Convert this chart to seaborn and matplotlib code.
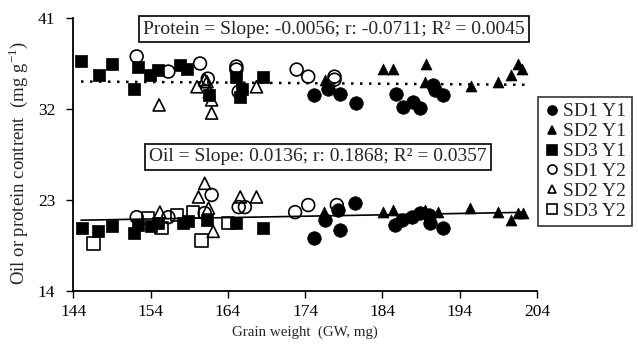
import numpy as np
import pandas as pd
import matplotlib
matplotlib.use("Agg")
import matplotlib.pyplot as plt
from matplotlib.lines import Line2D
import seaborn as sns

# ---------------- data ----------------
series_names = ["SD1 Y1", "SD2 Y1", "SD3 Y1", "SD1 Y2", "SD2 Y2", "SD3 Y2"]

# Protein
prot_sd1y1_x = [175.1, 176.9, 178.5, 180.6, 185.8, 186.7, 188.0, 188.8, 190.6, 190.8, 191.9]
prot_sd1y1_y = [33.4, 34.0, 33.45, 32.6, 33.5, 32.2, 32.7, 32.1, 34.4, 33.9, 33.4]
prot_sd2y1_x = [176.6, 184.1, 185.4, 189.7, 189.5, 195.5, 199.0, 200.7, 201.6, 202.0]
prot_sd2y1_y = [34.9, 36.0, 36.0, 36.5, 34.7, 34.3, 34.7, 35.4, 36.5, 36.0]
prot_sd3y1_x = [145.0, 147.3, 149.0, 152.4, 151.8, 153.9, 155.0, 157.8, 158.7, 161.5, 165.1, 165.8, 165.6, 168.6]
prot_sd3y1_y = [36.75, 35.4, 36.5, 36.2, 34.0, 35.4, 35.9, 36.35, 36.0, 33.4, 35.2, 34.0, 33.2, 35.2]
prot_sd1y2_x = [152.2, 156.3, 160.4, 161.4, 165.1, 165.1, 165.4, 172.9, 174.4, 177.8, 177.8]
prot_sd1y2_y = [37.2, 35.7, 36.5, 35.0, 36.2, 35.9, 33.7, 35.9, 35.2, 35.2, 34.9]
prot_sd2y2_x = [155.1, 160.0, 161.0, 161.3, 161.6, 161.9, 161.9, 167.7]
prot_sd2y2_y = [32.4, 34.2, 34.9, 34.7, 33.7, 32.9, 31.6, 34.2]
prot_sd3y2_x = []
prot_sd3y2_y = []

# Oil
oil_sd1y1_x = [175.1, 176.6, 178.3, 178.5, 180.4, 185.6, 186.5, 187.8, 188.9, 190.0, 190.2, 191.9]
oil_sd1y1_y = [19.2, 21.0, 22.0, 20.0, 22.7, 20.5, 21.0, 21.3, 21.7, 21.5, 20.7, 20.2]
oil_sd2y1_x = [176.4, 184.1, 185.4, 189.5, 191.2, 195.3, 199.0, 200.7, 201.6, 202.2]
oil_sd2y1_y = [21.8, 21.8, 22.0, 22.0, 21.8, 22.2, 21.8, 21.0, 21.7, 21.7]
oil_sd3y1_x = [145.1, 147.2, 149.0, 151.8, 152.4, 154.1, 155.0, 158.2, 158.9, 161.3, 165.1, 168.6]
oil_sd3y1_y = [20.2, 19.9, 20.4, 19.7, 20.5, 20.4, 20.7, 20.7, 20.9, 21.0, 20.7, 20.2]
oil_sd1y2_x = [152.2, 156.3, 161.0, 161.9, 165.4, 166.2, 172.7, 174.4, 178.1]
oil_sd1y2_y = [21.3, 21.3, 21.7, 23.5, 22.3, 22.3, 21.8, 22.5, 22.5]
oil_sd2y2_x = [155.2, 160.2, 161.0, 161.5, 162.1, 165.6, 167.7]
oil_sd2y2_y = [21.8, 23.3, 24.65, 22.2, 19.9, 23.3, 23.3]
oil_sd3y2_x = [146.6, 153.7, 155.4, 157.4, 159.5, 160.6, 164.0]
oil_sd3y2_y = [18.7, 21.2, 20.2, 21.5, 21.8, 19.0, 20.7]

# regression lines (intercept, slope)
prot_fit = [35.53, -0.0056]
oil_fit = [19.03, 0.0136]
line_range = [145.0, 202.5]

prot_text = "Protein = Slope: -0.0056; r: -0.0711; R\u00b2 = 0.0045"
oil_text = "Oil = Slope: 0.0136; r: 0.1868; R\u00b2 = 0.0357"

x_ticks = [144, 154, 164, 174, 184, 194, 204]
y_ticks = [14, 23, 32, 41]

# ---------------- build table ----------------
rows = []
prot = [(prot_sd1y1_x, prot_sd1y1_y), (prot_sd2y1_x, prot_sd2y1_y), (prot_sd3y1_x, prot_sd3y1_y),
        (prot_sd1y2_x, prot_sd1y2_y), (prot_sd2y2_x, prot_sd2y2_y), (prot_sd3y2_x, prot_sd3y2_y)]
oil = [(oil_sd1y1_x, oil_sd1y1_y), (oil_sd2y1_x, oil_sd2y1_y), (oil_sd3y1_x, oil_sd3y1_y),
       (oil_sd1y2_x, oil_sd1y2_y), (oil_sd2y2_x, oil_sd2y2_y), (oil_sd3y2_x, oil_sd3y2_y)]
for name, (px, py), (ox, oy) in zip(series_names, prot, oil):
    for a, b in zip(px, py):
        rows.append(dict(series=name, trait="Protein", gw=a, val=b))
    for a, b in zip(ox, oy):
        rows.append(dict(series=name, trait="Oil", gw=a, val=b))
df = pd.DataFrame(rows)

# ---------------- style ----------------
sns.set_style("ticks")
plt.rcParams["font.family"] = ["Liberation Serif", "DejaVu Serif"]
plt.rcParams["mathtext.fontset"] = "custom"
plt.rcParams["mathtext.rm"] = "Liberation Serif"

markers = {"SD1 Y1": "o", "SD2 Y1": "^", "SD3 Y1": "s", "SD1 Y2": "o", "SD2 Y2": "^", "SD3 Y2": "s"}
filled = {"SD1 Y1": True, "SD2 Y1": True, "SD3 Y1": True, "SD1 Y2": False, "SD2 Y2": False, "SD3 Y2": False}
sizes_filled = {"o": 95, "^": 62, "s": 80}
sizes_open = {"o": 85, "^": 75, "s": 78}

fig = plt.figure(figsize=(6.38, 3.44), dpi=100)
ax = fig.add_axes([73.3 / 638, 1 - 291 / 344, (537 - 73.3) / 638, (291 - 18) / 344])

for name in series_names:
    sub = df[df.series == name]
    if len(sub) == 0:
        continue
    m = markers[name]
    if filled[name]:
        sns.scatterplot(data=sub, x="gw", y="val", marker=m, s=sizes_filled[m], color="black",
                        edgecolor="black", linewidth=0.5, ax=ax, zorder=3, legend=False)
    else:
        sns.scatterplot(data=sub, x="gw", y="val", marker=m, s=sizes_open[m], color="black",
                        facecolor="none", edgecolor="black", linewidth=1.2, ax=ax, zorder=3, legend=False)

xs = np.array(line_range)
sns.lineplot(x=xs, y=prot_fit[0] + prot_fit[1] * xs, ax=ax, color="black", linewidth=1.8,
             dashes=False, zorder=2)
ax.lines[-1].set_linestyle((0, (1, 2.6)))
sns.lineplot(x=xs, y=oil_fit[0] + oil_fit[1] * xs, ax=ax, color="black", linewidth=1.2, zorder=2)

ax.set_xlim(144, 204)
ax.set_ylim(14, 41)
ax.set_xticks(x_ticks)
ax.set_yticks(y_ticks)
ax.set_xticklabels([str(t) for t in x_ticks], fontsize=12.5)
ax.set_yticklabels([str(t) for t in y_ticks], fontsize=12.5)
ax.tick_params(axis="both", direction="out", length=5, width=1.0, color="black", labelcolor="black")
ax.tick_params(axis="y", pad=8)
ax.tick_params(axis="x", pad=4)
sns.despine(ax=ax)
for sp in ["left", "bottom"]:
    ax.spines[sp].set_linewidth(1.3)
    ax.spines[sp].set_color("black")

ax.set_xlabel("Grain weight  (GW, mg)", fontsize=10.8)
ax.xaxis.set_label_coords(0.5, -0.125)
ax.set_ylabel(r"Oil or protein contrent  (mg g$^{\mathregular{-1}}$)", fontsize=13.5)
ax.yaxis.set_label_coords(-0.093, 0.47)

box = dict(boxstyle="square,pad=0.22", facecolor="white", edgecolor="black", linewidth=1.2)
fig.text(334 / 638, 1 - 29 / 344, prot_text, ha="center", va="center", fontsize=14, bbox=box)
fig.text(318 / 638, 1 - 157 / 344, oil_text, ha="center", va="center", fontsize=14, bbox=box)

handles = []
for name in series_names:
    m = markers[name]
    ms = {"o": 6.5, "^": 6, "s": 6.5}[m]
    handles.append(Line2D([], [], linestyle="none", marker=m, markersize=ms,
                          markerfacecolor="black" if filled[name] else "none",
                          markeredgecolor="black", markeredgewidth=1.2, label=name))
leg = fig.legend(handles=handles, loc="upper left", bbox_to_anchor=(538 / 638, 1 - 97 / 344),
                 frameon=True, fancybox=False, fontsize=14, handlelength=0.8, handletextpad=0.2,
                 labelspacing=0.12, borderpad=0.3, borderaxespad=0)
leg.get_frame().set_edgecolor("black")
leg.get_frame().set_linewidth(1.2)

fig.savefig("out.png", dpi=100)
